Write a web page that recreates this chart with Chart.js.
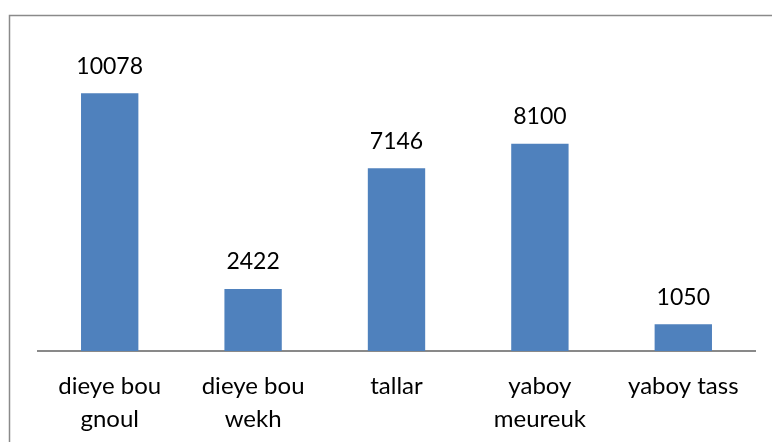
<!DOCTYPE html>
<html>
<head>
<meta charset="utf-8">
<script src="https://cdn.jsdelivr.net/npm/chart.js@4/dist/chart.umd.min.js"></script>
<style>
  html, body { margin: 0; padding: 0; background: #ffffff; }
  #wrap { width: 772px; height: 442px; position: relative; }
</style>
</head>
<body>
<div id="wrap"><canvas id="c" width="772" height="442"></canvas></div>
<script>
const categories = [["dieye bou", "gnoul"], ["dieye bou", "wekh"], "tallar", ["yaboy", "meureuk"], "yaboy tass"];
const values = [10078, 2422, 7146, 8100, 1050];
const dataLabels = ["10078", "2422", "7146", "8100", "1050"];

const frame = {
  id: 'frame',
  beforeDraw(chart) {
    const ctx = chart.ctx;
    ctx.save();
    ctx.fillStyle = '#ffffff';
    ctx.fillRect(0, 0, chart.width, chart.height);
    ctx.strokeStyle = '#8a8a8a';
    ctx.lineWidth = 1.5;
    ctx.strokeRect(9.5, 15.5, 900, 600);
    ctx.restore();
  }
};

const valueLabels = {
  id: 'valueLabels',
  afterDatasetsDraw(chart) {
    const ctx = chart.ctx;
    const meta = chart.getDatasetMeta(0);
    ctx.save();
    ctx.font = '23px Lato, "Open Sans", sans-serif';
    ctx.fillStyle = '#000000';
    ctx.textAlign = 'center';
    ctx.textBaseline = 'middle';
    meta.data.forEach((bar, i) => {
      ctx.fillText(dataLabels[i], bar.x, bar.y - 27);
    });
    ctx.restore();
  }
};

new Chart(document.getElementById('c'), {
  type: 'bar',
  data: {
    labels: categories,
    datasets: [{
      data: values,
      backgroundColor: '#4F81BD',
      borderWidth: 0,
      barPercentage: 0.4,
      categoryPercentage: 1.0
    }]
  },
  options: {
    responsive: false,
    animation: false,
    layout: { padding: { left: 38, right: 17, top: 44, bottom: 0 } },
    plugins: { legend: { display: false }, tooltip: { enabled: false } },
    scales: {
      x: {
        grid: { display: false, drawTicks: false },
        border: { display: true, color: '#898989', width: 2 },
        ticks: {
          color: '#000000',
          padding: 19,
          maxRotation: 0,
          autoSkip: false,
          font: { family: 'Lato, "Open Sans", sans-serif', size: 24, lineHeight: 1.375 }
        },
        afterFit(scale) { scale.height = 91; }
      },
      y: {
        display: false,
        min: 0,
        max: 12000
      }
    }
  },
  plugins: [frame, valueLabels]
});
</script>
</body>
</html>
